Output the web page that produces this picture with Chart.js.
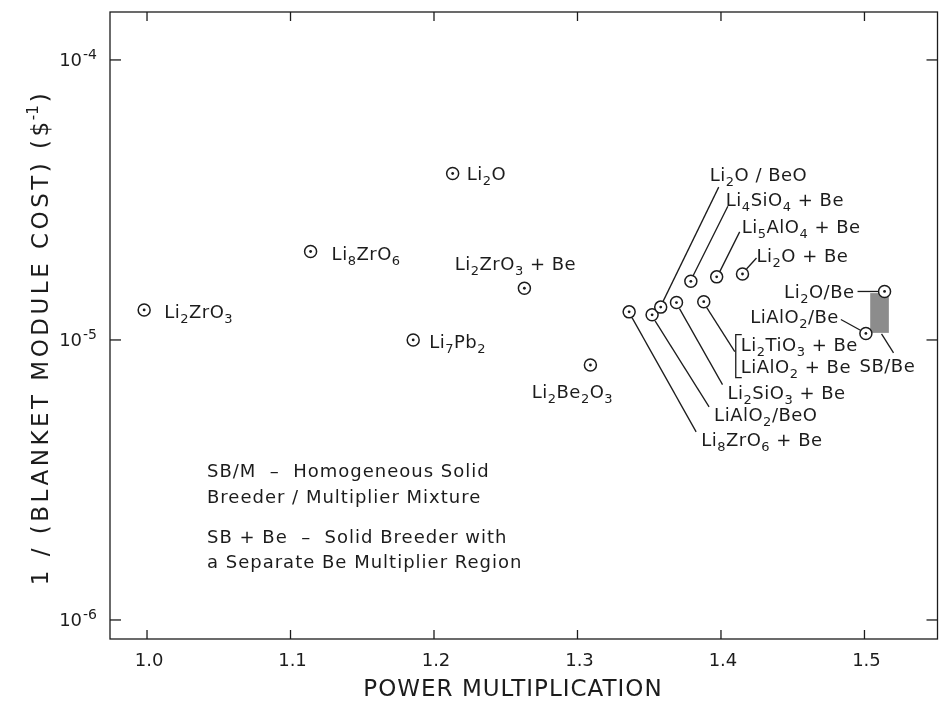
<!DOCTYPE html>
<html>
<head>
<meta charset="utf-8">
<script src="https://cdn.jsdelivr.net/npm/chart.js@4.4.1/dist/chart.umd.min.js"></script>
<style>
  html, body { margin: 0; background: #fff; overflow: hidden; }
  #wrap { width: 940px; height: 709px; overflow: hidden; }
</style>
</head>
<body>
<!-- canvas is a few px wider than the window: Chart.js keeps point-radius room on the right -->
<div id="wrap"><canvas id="costChart" width="945" height="709"></canvas></div>
<script>
// Blanket options
const names = [
  'Li2ZrO3', 'Li8ZrO6', 'Li2O', 'Li7Pb2', 'Li2ZrO3 + Be', 'Li2Be2O3',
  'Li8ZrO6 + Be', 'LiAlO2/BeO', 'Li2O / BeO', 'Li2SiO3 + Be',
  ['Li2TiO3 + Be', 'LiAlO2 + Be'],
  'Li4SiO4 + Be', 'Li5AlO4 + Be', 'Li2O + Be', 'Li2O/Be', 'LiAlO2/Be'
];
const powerMult = [0.998, 1.114, 1.213, 1.1855, 1.263, 1.309, 1.336, 1.352, 1.358, 1.369, 1.388, 1.379, 1.397, 1.415, 1.514, 1.501];
const invCost = [1.28e-5, 2.07e-5, 3.93e-5, 1.0e-5, 1.53e-5, 8.14e-6, 1.26e-5, 1.23e-5, 1.31e-5, 1.36e-5, 1.37e-5, 1.62e-5, 1.68e-5, 1.72e-5, 1.49e-5, 1.055e-5];

// shaded SB/Be band
const sbBeX = [1.504, 1.517];
const sbBeY = [1.06e-5, 1.47e-5];

const xTicks = [1.0, 1.1, 1.2, 1.3, 1.4, 1.5];
const xTickLabels = ['1.0', '1.1', '1.2', '1.3', '1.4', '1.5'];
const yTicks = [1e-6, 1e-5, 1e-4];
const yTickExp = ['-6', '-5', '-4'];

const xTitle = 'POWER MULTIPLICATION';
const yTitle = '1 / (BLANKET MODULE COST) ($';
const notes = [
  'SB/M  –  Homogeneous Solid',
  'Breeder / Multiplier Mixture',
  'SB + Be  –  Solid Breeder with',
  'a Separate Be Multiplier Region'
];

// label placement relative to each point (pixels)
const labelLayout = [
  { dx: 20, dy: 2 },
  { dx: 21, dy: 2 },
  { dx: 14, dy: 0 },
  { dx: 16, dy: 2 },
  { dx: -9, dy: -25, align: 'center' },
  { dx: -18, dy: 27, align: 'center' },
  { dx: 72, dy: 128, lead: [3, 6, 67, 120] },
  { dx: 62, dy: 100, lead: [3, 6, 57, 92] },
  { dx: 49, dy: -133, lead: [2, -5, 58, -120] },
  { dx: 51, dy: 90, lead: [3, 6, 46, 82] },
  { dx: 37, dy: 43, lead: [3, 6, 31, 50], bracket: [32, 33, 76] },
  { dx: 35, dy: -82, lead: [2, -5, 37, -75] },
  { dx: 25, dy: -50, lead: [3, -5, 23, -45] },
  { dx: 14, dy: -19, lead: [4, -5, 14, -16] },
  { dx: -30, dy: 0, align: 'right', lead: [-6, 0, -27, 0] },
  { dx: -27, dy: -17, align: 'right', lead: [-5, -3, -25, -14] }
];

const INK = '#1c1c1c';
const FONT = '"DejaVu Sans", sans-serif';
const BASE = 18, SUB = 13;

function runsOf(text) {
  const runs = [];
  for (const ch of text) {
    const sub = /\d/.test(ch);
    if (runs.length && runs[runs.length - 1].sub === sub) runs[runs.length - 1].t += ch;
    else runs.push({ t: ch, sub: sub });
  }
  return runs;
}

// draws a chemical formula with subscripted digits, y = middle of caps
function drawFormula(ctx, text, x, y, align) {
  const runs = runsOf(text);
  let w = 0;
  ctx.letterSpacing = '0.5px';
  runs.forEach(r => {
    ctx.font = (r.sub ? SUB : BASE) + 'px ' + FONT;
    r.w = ctx.measureText(r.t).width;
    w += r.w;
  });
  let cx = align === 'right' ? x - w : align === 'center' ? x - w / 2 : x;
  ctx.textAlign = 'left';
  ctx.textBaseline = 'alphabetic';
  runs.forEach(r => {
    ctx.font = (r.sub ? SUB : BASE) + 'px ' + FONT;
    ctx.fillText(r.t, cx, y + 6.5 + (r.sub ? 5 : 0));
    cx += r.w;
  });
}

function line(ctx, x1, y1, x2, y2) {
  ctx.beginPath();
  ctx.moveTo(x1, y1);
  ctx.lineTo(x2, y2);
  ctx.stroke();
}

const annotations = {
  id: 'annotations',
  beforeDatasetsDraw(chart) {
    const { ctx, chartArea: a, scales: { x, y } } = chart;
    ctx.save();
    ctx.strokeStyle = INK;
    ctx.fillStyle = INK;
    ctx.lineWidth = 1.3;

    // frame
    ctx.strokeRect(a.left, a.top, a.right - a.left, a.bottom - a.top);
    // inward ticks + labels
    ctx.font = '18px ' + FONT;
    ctx.letterSpacing = '0px';
    ctx.textAlign = 'center';
    ctx.textBaseline = 'middle';
    xTicks.forEach((v, i) => {
      const px = x.getPixelForValue(v);
      line(ctx, px, a.bottom, px, a.bottom - 9);
      line(ctx, px, a.top, px, a.top + 9);
      ctx.fillText(xTickLabels[i], px + 2, a.bottom + 22);
    });
    ctx.textAlign = 'left';
    ctx.textBaseline = 'alphabetic';
    yTicks.forEach((v, i) => {
      const py = y.getPixelForValue(v);
      line(ctx, a.left, py, a.left + 11, py);
      line(ctx, a.right, py, a.right - 11, py);
      // 10 with raised exponent
      ctx.font = '14px ' + FONT;
      const ew = ctx.measureText(yTickExp[i]).width;
      ctx.fillText(yTickExp[i], a.left - 13 - ew, py - 1);
      ctx.font = '18px ' + FONT;
      const bw = ctx.measureText('10').width;
      ctx.fillText('10', a.left - 14 - ew - bw, py + 6);
    });

    // axis titles
    ctx.font = '23px ' + FONT;
    ctx.letterSpacing = '1px';
    ctx.textAlign = 'center';
    ctx.textBaseline = 'middle';
    ctx.fillText(xTitle, 513, 690);
    ctx.save();
    ctx.translate(40, 338);
    ctx.rotate(-Math.PI / 2);
    const sp = '3.5px';
    ctx.letterSpacing = sp;
    const tw = ctx.measureText(yTitle).width;
    ctx.font = '15px ' + FONT;
    ctx.letterSpacing = '0px';
    const sw = ctx.measureText('-1').width;
    ctx.font = '23px ' + FONT;
    ctx.letterSpacing = sp;
    const cw = ctx.measureText(')').width;
    const total = tw + sw + cw;
    ctx.textAlign = 'left';
    ctx.textBaseline = 'alphabetic';
    ctx.fillText(yTitle, -total / 2, 8);
    ctx.font = '15px ' + FONT;
    ctx.letterSpacing = '0px';
    ctx.fillText('-1', -total / 2 + tw - 2, -2);
    ctx.font = '23px ' + FONT;
    ctx.letterSpacing = sp;
    ctx.fillText(')', -total / 2 + tw + sw + 1, 8);
    ctx.restore();

    // SB/Be shaded band
    const bx1 = x.getPixelForValue(sbBeX[0]), bx2 = x.getPixelForValue(sbBeX[1]);
    const by1 = y.getPixelForValue(sbBeY[1]), by2 = y.getPixelForValue(sbBeY[0]);
    ctx.fillStyle = '#8c8c8c';
    ctx.fillRect(bx1, by1, bx2 - bx1, by2 - by1);
    ctx.fillStyle = INK;
    const bcx = (bx1 + bx2) / 2;
    line(ctx, bcx + 2, by2 + 1, bcx + 14, by2 + 20);
    drawFormula(ctx, 'SB/Be', bcx - 20, by2 + 33, 'left');

    // point labels + leader lines
    names.forEach((name, i) => {
      const px = x.getPixelForValue(powerMult[i]);
      const py = y.getPixelForValue(invCost[i]);
      const L = labelLayout[i];
      if (L.lead) line(ctx, px + L.lead[0], py + L.lead[1], px + L.lead[2], py + L.lead[3]);
      if (L.bracket) {
        const bxp = px + L.bracket[0];
        ctx.beginPath();
        ctx.moveTo(bxp + 6, py + L.bracket[1]);
        ctx.lineTo(bxp, py + L.bracket[1]);
        ctx.lineTo(bxp, py + L.bracket[2]);
        ctx.lineTo(bxp + 6, py + L.bracket[2]);
        ctx.stroke();
      }
      const lines = Array.isArray(name) ? name : [name];
      lines.forEach((t, k) => drawFormula(ctx, t, px + L.dx, py + L.dy + k * 22, L.align || 'left'));
    });

    // legend notes
    ctx.font = BASE + 'px ' + FONT;
    ctx.letterSpacing = '1px';
    ctx.textAlign = 'left';
    ctx.textBaseline = 'middle';
    const noteY = [472, 498, 538, 563];
    notes.forEach((t, k) => ctx.fillText(t, a.left + 97, noteY[k]));
    ctx.restore();
  }
};

const pts = powerMult.map((v, i) => ({ x: v, y: invCost[i] }));

new Chart(document.getElementById('costChart'), {
  type: 'scatter',
  data: {
    datasets: [
      {
        label: 'centres',
        data: pts,
        pointRadius: 1.4,
        pointBorderWidth: 0,
        pointBackgroundColor: INK,
        order: 0
      },
      {
        label: 'options',
        data: pts,
        pointRadius: 6,
        pointBorderWidth: 1.5,
        pointBorderColor: INK,
        pointBackgroundColor: '#fff',
        order: 1
      }
    ]
  },
  options: {
    responsive: false,
    animation: false,
    events: [],
    layout: { padding: { top: 12, right: 0, left: 0, bottom: 0 } },
    plugins: { legend: { display: false }, tooltip: { enabled: false } },
    scales: {
      x: {
        type: 'linear',
        min: 0.9742,
        max: 1.5509,
        grid: { display: false, drawTicks: false },
        border: { display: false },
        afterBuildTicks: s => { s.ticks = xTicks.map(v => ({ value: v })); },
        afterFit: s => { s.height = 70; },
        ticks: { display: false }
      },
      y: {
        type: 'logarithmic',
        min: 8.552e-7,
        max: 1.4833e-4,
        grid: { display: false, drawTicks: false },
        border: { display: false },
        afterBuildTicks: s => { s.ticks = yTicks.map(v => ({ value: v })); },
        afterFit: s => { s.width = 110; },
        ticks: { display: false }
      }
    }
  },
  plugins: [annotations]
});
</script>
</body>
</html>
